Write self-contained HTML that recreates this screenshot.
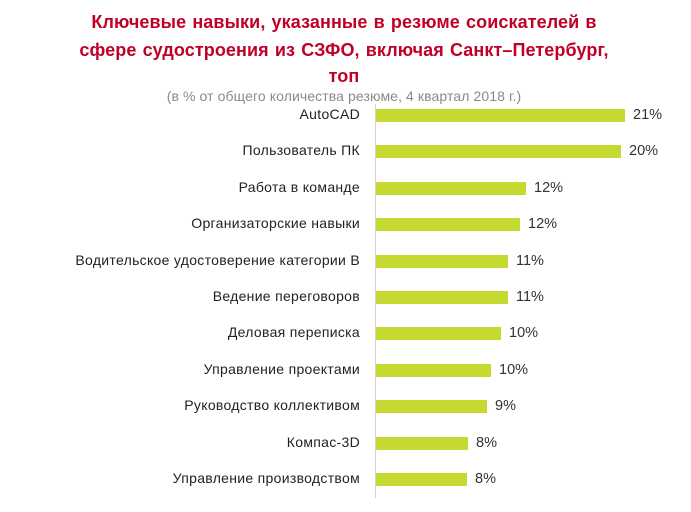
<!DOCTYPE html>
<html><head><meta charset="utf-8"><style>
body{margin:0;width:691px;height:512px;background:#fff;overflow:hidden;position:relative;font-family:"Liberation Sans","DejaVu Sans",sans-serif}
.t{position:absolute;left:0;width:688px;text-align:center;color:#c00026;font-weight:bold;font-size:18px;letter-spacing:0.1px;word-spacing:1px;white-space:nowrap}
.s{position:absolute;left:0;width:688px;text-align:center;color:#8a8a8a;font-size:14px;letter-spacing:0.1px;top:88px}
.l{position:absolute;right:331px;font-size:14px;letter-spacing:0.3px;color:#222;white-space:nowrap}
.b{position:absolute;left:376px;height:13px;background:#c5d930}
.p{position:absolute;font-size:14.5px;color:#333}
.ax{position:absolute;left:375px;top:104px;width:1px;height:394px;background:#d0d0d0}
</style></head><body>
<div class="t" style="top:12px">Ключевые навыки, указанные в резюме соискателей в</div>
<div class="t" style="top:40px">сфере судостроения из СЗФО, включая Санкт–Петербург,</div>
<div class="t" style="top:66px">топ</div>
<div class="s">(в % от общего количества резюме, 4 квартал 2018 г.)</div>
<div class="ax"></div>
<div id="c"></div>
<script>
var d=[["AutoCAD",625,"21%"],["Пользователь ПК",621,"20%"],["Работа в команде",526,"12%"],["Организаторские навыки",520,"12%"],["Водительское удостоверение категории B",508,"11%"],["Ведение переговоров",508,"11%"],["Деловая переписка",501,"10%"],["Управление проектами",491,"10%"],["Руководство коллективом",487,"9%"],["Компас-3D",468,"8%"],["Управление производством",467,"8%"]];
var h="";d.forEach(function(r,i){var y=109+i*36.4;
h+='<div class="l" style="top:'+(y-3)+'px">'+r[0]+'</div><div class="b" style="top:'+y+'px;width:'+(r[1]-376)+'px"></div><div class="p" style="left:'+(r[1]+8)+'px;top:'+(y-2)+'px">'+r[2]+'</div>';});
document.getElementById("c").innerHTML=h;
</script>
</body></html>
